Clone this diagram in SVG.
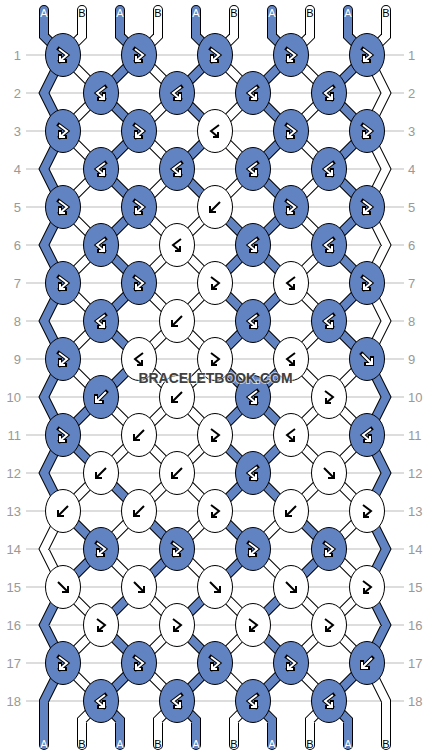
<svg xmlns="http://www.w3.org/2000/svg" width="430" height="756" viewBox="0 0 430 756">
<style>
.io{fill:none;stroke:#000;stroke-width:4;stroke-linecap:square}
.iw{fill:none;stroke:#fff;stroke-width:2}
.ik{fill:none;stroke:#000;stroke-width:2}
.rl{font-family:"Liberation Sans",Arial,sans-serif;font-size:13px;fill:#999}
.sl{font-family:"Liberation Sans",Arial,sans-serif;font-size:11px;text-anchor:middle}
</style>
<defs>
<ellipse id="eA" rx="17.5" ry="21.5" fill="#6283c2" stroke="#000" stroke-width="1"/>
<ellipse id="eB" rx="17.5" ry="21.5" fill="#fff" stroke="#000" stroke-width="1"/>
<path id="pf" d="M-5,-5L4,4M-1,5L5,5L5,-1"/>
<path id="pb" d="M5,-5L-4,4M1,5L-5,5L-5,-1"/>
<path id="pfb" d="M-4,-6L4,0L-3,6M-3,1L-3,6L2,6"/>
<path id="pbf" d="M4,-6L-4,0L3,6M3,1L3,6L-2,6"/>
<g id="fbA"><use href="#eA"/><use href="#pfb" class="io"/><use href="#pfb" class="iw"/></g>
<g id="bfA"><use href="#eA"/><use href="#pbf" class="io"/><use href="#pbf" class="iw"/></g>
<g id="fA"><use href="#eA"/><use href="#pf" class="io"/><use href="#pf" class="iw"/></g>
<g id="bA"><use href="#eA"/><use href="#pb" class="io"/><use href="#pb" class="iw"/></g>
<g id="fbB"><use href="#eB"/><use href="#pfb" class="ik"/></g>
<g id="bfB"><use href="#eB"/><use href="#pbf" class="ik"/></g>
<g id="fB"><use href="#eB"/><use href="#pf" class="ik"/></g>
<g id="bB"><use href="#eB"/><use href="#pb" class="ik"/></g>
<path id="sA" d="M44,10V36L63,55 44,93 63,131 44,169 63,207 44,245 63,283 44,321 63,359 44,397 63,435 44,473 63,511M63,587L44,625 63,663 44,701V745
M101,397L63,435 101,473M63,511L101,549 63,587
M120,10V36L139,55 101,93 139,131 101,169 139,207 101,245 139,283 101,321 139,359 101,397M101,473L139,511M139,587L101,625 139,663 101,701 120,720V745
M139,511L177,549 139,587
M196,10V36L215,55 177,93 215,131 177,169 215,207M215,587L177,625 215,663 177,701 196,720V745
M215,207L253,245 215,283 253,321 215,359 253,397 215,435 253,473 215,511 253,549 215,587
M272,10V36L291,55 253,93 291,131 253,169 291,207 253,245 291,283 253,321 291,359 253,397 291,435 253,473 291,511M291,587L253,625 291,663 253,701 272,720V745
M291,511L329,549 291,587
M348,10V36L367,55 329,93 367,131 329,169 367,207 329,245 367,283 329,321 367,359M367,663L329,701 348,720V745
M367,359L386,397 367,435 386,473 367,511 386,549 367,587 386,625 367,663"/>
<path id="sB" d="M63,511L44,549 63,587
M82,10V36L63,55 101,93 63,131 101,169 63,207 101,245 63,283 101,321 63,359 101,397M101,473L63,511M63,587L101,625 63,663 101,701 82,720V745
M101,397L139,435 101,473M139,511L101,549 139,587
M158,10V36L139,55 177,93 139,131 177,169 139,207 177,245 139,283 177,321 139,359 177,397 139,435 177,473 139,511M139,587L177,625 139,663 177,701 158,720V745
M215,207L177,245 215,283 177,321 215,359 177,397 215,435 177,473 215,511 177,549 215,587
M234,10V36L215,55 253,93 215,131 253,169 215,207M215,587L253,625 215,663 253,701 234,720V745
M291,511L253,549 291,587
M310,10V36L291,55 329,93 291,131 329,169 291,207 329,245 291,283 329,321 291,359 329,397 291,435 329,473 291,511M291,587L329,625 291,663 329,701 310,720V745
M367,359L329,397 367,435 329,473 367,511 329,549 367,587 329,625 367,663
M386,10V36L367,55 386,93 367,131 386,169 367,207 386,245 367,283 386,321 367,359M367,663L386,701V745"/>
</defs>
<rect width="430" height="756" fill="#fff"/>
<g id="grid" stroke="#bbb" stroke-width="1.2">
<path d="M26,55H404M26,93H404M26,131H404M26,169H404M26,207H404M26,245H404M26,283H404M26,321H404M26,359H404M26,397H404M26,435H404M26,473H404M26,511H404M26,549H404M26,587H404M26,625H404M26,663H404M26,701H404"/>
</g>
<g id="row-labels" class="rl">
<g text-anchor="end">
<text x="21" y="59.5">1</text><text x="21" y="97.5">2</text><text x="21" y="135.5">3</text><text x="21" y="173.5">4</text><text x="21" y="211.5">5</text><text x="21" y="249.5">6</text><text x="21" y="287.5">7</text><text x="21" y="325.5">8</text><text x="21" y="363.5">9</text><text x="21" y="401.5">10</text><text x="21" y="439.5">11</text><text x="21" y="477.5">12</text><text x="21" y="515.5">13</text><text x="21" y="553.5">14</text><text x="21" y="591.5">15</text><text x="21" y="629.5">16</text><text x="21" y="667.5">17</text><text x="21" y="705.5">18</text>
</g>
<g>
<text x="408" y="59.5">1</text><text x="408" y="97.5">2</text><text x="408" y="135.5">3</text><text x="408" y="173.5">4</text><text x="408" y="211.5">5</text><text x="408" y="249.5">6</text><text x="408" y="287.5">7</text><text x="408" y="325.5">8</text><text x="408" y="363.5">9</text><text x="408" y="401.5">10</text><text x="408" y="439.5">11</text><text x="408" y="477.5">12</text><text x="408" y="515.5">13</text><text x="408" y="553.5">14</text><text x="408" y="591.5">15</text><text x="408" y="629.5">16</text><text x="408" y="667.5">17</text><text x="408" y="705.5">18</text>
</g>
</g>
<g id="strings" fill="none" stroke-linejoin="miter" stroke-linecap="round">
<use href="#sA" stroke="#000" stroke-width="10"/>
<use href="#sB" stroke="#000" stroke-width="10"/>
<use href="#sA" stroke="#6283c2" stroke-width="8"/>
<use href="#sB" stroke="#fff" stroke-width="8"/>
</g>
<g id="string-labels" class="sl">
<text x="44" y="17" fill="#fff">A</text><text x="82" y="17">B</text><text x="120" y="17" fill="#fff">A</text><text x="158" y="17">B</text><text x="196" y="17" fill="#fff">A</text><text x="234" y="17">B</text><text x="272" y="17" fill="#fff">A</text><text x="310" y="17">B</text><text x="348" y="17" fill="#fff">A</text><text x="386" y="17">B</text>
<text x="44" y="748" fill="#fff">A</text><text x="82" y="748">B</text><text x="120" y="748" fill="#fff">A</text><text x="158" y="748">B</text><text x="196" y="748" fill="#fff">A</text><text x="234" y="748">B</text><text x="272" y="748" fill="#fff">A</text><text x="310" y="748">B</text><text x="348" y="748" fill="#fff">A</text><text x="386" y="748">B</text>
</g>
<g id="knots">
<g id="k1-1"><use href="#fbA" x="63" y="55"/></g><g id="k1-2"><use href="#fbA" x="139" y="55"/></g><g id="k1-3"><use href="#fbA" x="215" y="55"/></g><g id="k1-4"><use href="#fbA" x="291" y="55"/></g><g id="k1-5"><use href="#fbA" x="367" y="55"/></g>
<g id="k2-1"><use href="#bfA" x="101" y="93"/></g><g id="k2-2"><use href="#bfA" x="177" y="93"/></g><g id="k2-3"><use href="#bfA" x="253" y="93"/></g><g id="k2-4"><use href="#bfA" x="329" y="93"/></g>
<g id="k3-1"><use href="#fbA" x="63" y="131"/></g><g id="k3-2"><use href="#fbA" x="139" y="131"/></g><g id="k3-3"><use href="#bfB" x="215" y="131"/></g><g id="k3-4"><use href="#fbA" x="291" y="131"/></g><g id="k3-5"><use href="#fbA" x="367" y="131"/></g>
<g id="k4-1"><use href="#bfA" x="101" y="169"/></g><g id="k4-2"><use href="#bfA" x="177" y="169"/></g><g id="k4-3"><use href="#bfA" x="253" y="169"/></g><g id="k4-4"><use href="#bfA" x="329" y="169"/></g>
<g id="k5-1"><use href="#fbA" x="63" y="207"/></g><g id="k5-2"><use href="#fbA" x="139" y="207"/></g><g id="k5-3"><use href="#bB" x="215" y="207"/></g><g id="k5-4"><use href="#fbA" x="291" y="207"/></g><g id="k5-5"><use href="#fbA" x="367" y="207"/></g>
<g id="k6-1"><use href="#bfA" x="101" y="245"/></g><g id="k6-2"><use href="#bfB" x="177" y="245"/></g><g id="k6-3"><use href="#bfA" x="253" y="245"/></g><g id="k6-4"><use href="#bfA" x="329" y="245"/></g>
<g id="k7-1"><use href="#fbA" x="63" y="283"/></g><g id="k7-2"><use href="#fbA" x="139" y="283"/></g><g id="k7-3"><use href="#fbB" x="215" y="283"/></g><g id="k7-4"><use href="#bfB" x="291" y="283"/></g><g id="k7-5"><use href="#fbA" x="367" y="283"/></g>
<g id="k8-1"><use href="#bfA" x="101" y="321"/></g><g id="k8-2"><use href="#bB" x="177" y="321"/></g><g id="k8-3"><use href="#bfA" x="253" y="321"/></g><g id="k8-4"><use href="#bfA" x="329" y="321"/></g>
<g id="k9-1"><use href="#fbA" x="63" y="359"/></g><g id="k9-2"><use href="#bfB" x="139" y="359"/></g><g id="k9-3"><use href="#fbB" x="215" y="359"/></g><g id="k9-4"><use href="#bfB" x="291" y="359"/></g><g id="k9-5"><use href="#fA" x="367" y="359"/></g>
<g id="k10-1"><use href="#bA" x="101" y="397"/></g><g id="k10-2"><use href="#bB" x="177" y="397"/></g><g id="k10-3"><use href="#bfA" x="253" y="397"/></g><g id="k10-4"><use href="#fbB" x="329" y="397"/></g>
<g id="k11-1"><use href="#fbA" x="63" y="435"/></g><g id="k11-2"><use href="#bB" x="139" y="435"/></g><g id="k11-3"><use href="#fbB" x="215" y="435"/></g><g id="k11-4"><use href="#bfB" x="291" y="435"/></g><g id="k11-5"><use href="#bfA" x="367" y="435"/></g>
<g id="k12-1"><use href="#bB" x="101" y="473"/></g><g id="k12-2"><use href="#bB" x="177" y="473"/></g><g id="k12-3"><use href="#bfA" x="253" y="473"/></g><g id="k12-4"><use href="#fB" x="329" y="473"/></g>
<g id="k13-1"><use href="#bB" x="63" y="511"/></g><g id="k13-2"><use href="#bB" x="139" y="511"/></g><g id="k13-3"><use href="#fbB" x="215" y="511"/></g><g id="k13-4"><use href="#bB" x="291" y="511"/></g><g id="k13-5"><use href="#fbB" x="367" y="511"/></g>
<g id="k14-1"><use href="#fbA" x="101" y="549"/></g><g id="k14-2"><use href="#fbA" x="177" y="549"/></g><g id="k14-3"><use href="#fbA" x="253" y="549"/></g><g id="k14-4"><use href="#fbA" x="329" y="549"/></g>
<g id="k15-1"><use href="#fB" x="63" y="587"/></g><g id="k15-2"><use href="#fB" x="139" y="587"/></g><g id="k15-3"><use href="#fB" x="215" y="587"/></g><g id="k15-4"><use href="#fB" x="291" y="587"/></g><g id="k15-5"><use href="#fbB" x="367" y="587"/></g>
<g id="k16-1"><use href="#fbB" x="101" y="625"/></g><g id="k16-2"><use href="#fbB" x="177" y="625"/></g><g id="k16-3"><use href="#fbB" x="253" y="625"/></g><g id="k16-4"><use href="#fbB" x="329" y="625"/></g>
<g id="k17-1"><use href="#fbA" x="63" y="663"/></g><g id="k17-2"><use href="#fbA" x="139" y="663"/></g><g id="k17-3"><use href="#fbA" x="215" y="663"/></g><g id="k17-4"><use href="#fbA" x="291" y="663"/></g><g id="k17-5"><use href="#bA" x="367" y="663"/></g>
<g id="k18-1"><use href="#bfA" x="101" y="701"/></g><g id="k18-2"><use href="#bfA" x="177" y="701"/></g><g id="k18-3"><use href="#bfA" x="253" y="701"/></g><g id="k18-4"><use href="#bfA" x="329" y="701"/></g>
</g>
<text id="watermark" x="215.5" y="383" text-anchor="middle" font-family="'Liberation Sans',Arial,sans-serif" font-weight="bold" font-size="14.5" textLength="154" lengthAdjust="spacingAndGlyphs" fill="#404040" stroke="#fff" stroke-opacity="0.6" stroke-width="2" paint-order="stroke">BRACELETBOOK.COM</text>
</svg>
